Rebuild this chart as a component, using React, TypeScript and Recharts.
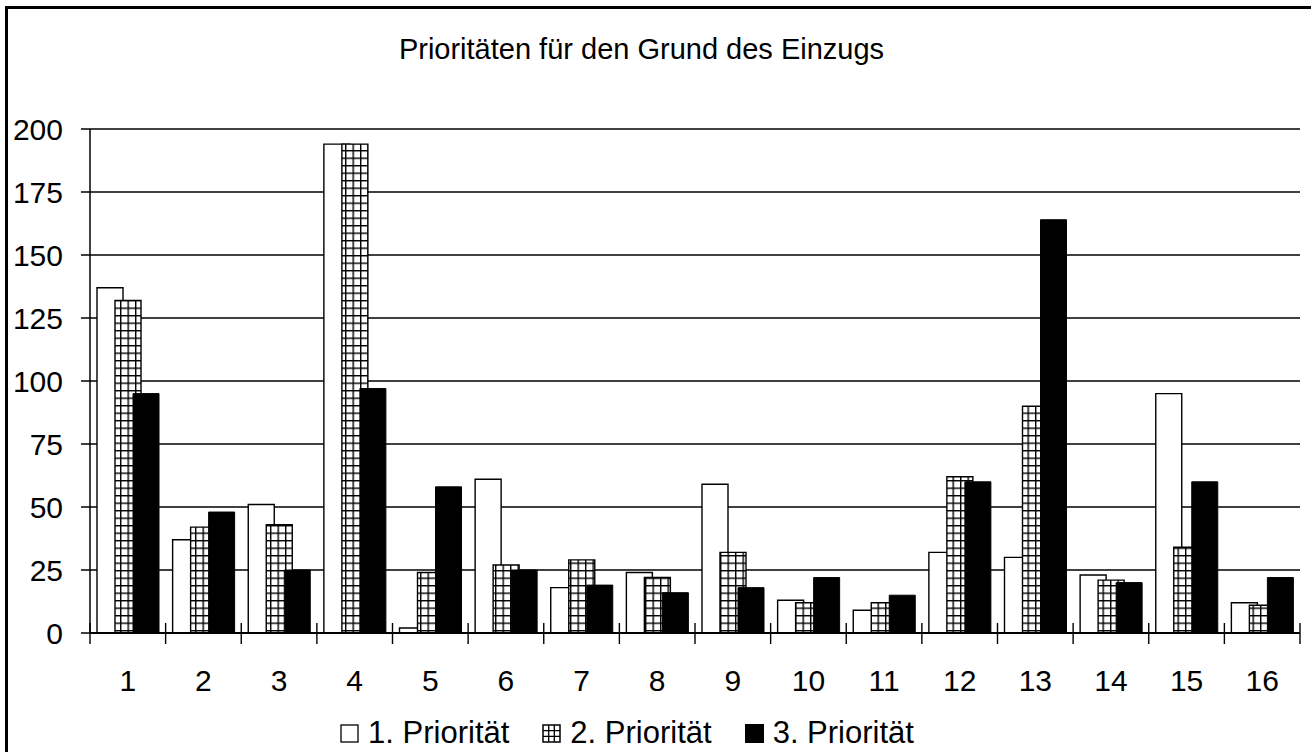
import React from "react";
import { BarChart, Bar, XAxis, YAxis, CartesianGrid } from "recharts";

const categories = ["1", "2", "3", "4", "5", "6", "7", "8", "9", "10", "11", "12", "13", "14", "15", "16"];
const prio1 = [137, 37, 51, 194, 2, 61, 18, 24, 59, 13, 9, 32, 30, 23, 95, 12];
const prio2 = [132, 42, 43, 194, 24, 27, 29, 22, 32, 12, 12, 62, 90, 21, 34, 11];
const prio3 = [95, 48, 25, 97, 58, 25, 19, 16, 18, 22, 15, 60, 164, 20, 60, 22];
const yTicks = [0, 25, 50, 75, 100, 125, 150, 175, 200];
const seriesNames = ["1. Priorität", "2. Priorität", "3. Priorität"];

const chartData = categories.map((c, i) => ({ name: c, p1: prio1[i], p2: prio2[i], p3: prio3[i] }));

const W = 1311;
const H = 752;
const PLOT_LEFT = 90;
const PLOT_RIGHT = 1300;
const PLOT_BOTTOM = 633;
const BAND = (PLOT_RIGHT - PLOT_LEFT) / categories.length;
const FONT = '"Liberation Sans", Arial, sans-serif';

function CategoryTick(props: any) {
  const { x, payload, index } = props;
  const left = x - BAND / 2;
  const right = x + BAND / 2;
  return (
    <g>
      <line x1={left} x2={left} y1={PLOT_BOTTOM - 10} y2={PLOT_BOTTOM + 11} stroke="#000" strokeWidth={1.4} />
      {index === categories.length - 1 && (
        <line x1={right} x2={right} y1={PLOT_BOTTOM - 10} y2={PLOT_BOTTOM + 11} stroke="#000" strokeWidth={1.4} />
      )}
      <text x={x} y={PLOT_BOTTOM + 58} textAnchor="middle" fontSize={30} fontFamily={FONT} fill="#000">
        {payload.value}
      </text>
    </g>
  );
}

function ValueTick(props: any) {
  const { x, y, payload } = props;
  return (
    <text x={x} y={y + 11} textAnchor="end" fontSize={30} fontFamily={FONT} fill="#000">
      {payload.value}
    </text>
  );
}

function LegendIcon({ kind }: { kind: number }) {
  return (
    <svg width={19} height={19} style={{ marginRight: 9 }}>
      {kind === 0 && <rect x={1} y={1} width={17} height={17} fill="#fff" stroke="#000" strokeWidth={1.3} />}
      {kind === 1 && (
        <g>
          <rect x={1} y={1} width={17} height={17} fill="#fff" stroke="#000" strokeWidth={1.5} />
          <path d="M6.7 1V18M12.3 1V18M1 6.7H18M1 12.3H18" stroke="#000" strokeWidth={1.3} />
        </g>
      )}
      {kind === 2 && <rect x={0} y={0} width={19} height={19} fill="#000" />}
    </svg>
  );
}

export default function App() {
  return (
    <div style={{ position: "absolute", left: 0, top: 0, width: W, height: H, overflow: "hidden", background: "#fff" }}>
      <div
        style={{
          position: "absolute",
          left: 5,
          top: 6,
          width: W + 20,
          height: H + 20,
          border: "3px solid #000",
          boxSizing: "border-box",
        }}
      />
      <div
        style={{
          position: "absolute",
          left: 0,
          top: 31,
          width: 1283,
          textAlign: "center",
          fontFamily: FONT,
          fontSize: 29,
          lineHeight: "36px",
          color: "#000",
        }}
      >
        Prioritäten für den Grund des Einzugs
      </div>
      <div style={{ position: "absolute", left: 0, top: 0 }}>
        <BarChart
          width={W}
          height={H}
          data={chartData}
          margin={{ top: 129, right: W - PLOT_RIGHT, bottom: 59, left: 0 }}
          barSize={26}
          barGap={-8}
        >
          <defs>
            <pattern id="grid" patternUnits="userSpaceOnUse" width={7.5} height={7.5}>
              <rect x={0} y={0} width={7.5} height={7.5} fill="#fff" />
              <path d="M0.7 0V7.5M0 0.7H7.5" stroke="#000" strokeWidth={1.4} />
            </pattern>
          </defs>
          <CartesianGrid horizontal vertical={false} stroke="#000" strokeWidth={1.6} strokeOpacity={1} />
          <XAxis
            dataKey="name"
            height={60}
            axisLine={{ stroke: "#000", strokeWidth: 1.8 }}
            tickLine={false}
            tick={<CategoryTick />}
            interval={0}
          />
          <YAxis
            width={PLOT_LEFT}
            domain={[0, 200]}
            ticks={yTicks}
            axisLine={{ stroke: "#000", strokeWidth: 1.5 }}
            tickLine={{ stroke: "#000", strokeWidth: 1.5 }}
            tickSize={9}
            tickMargin={18}
            tick={<ValueTick />}
            interval={0}
          />
          <Bar dataKey="p1" name={seriesNames[0]} fill="#fff" stroke="#000" strokeWidth={1.4} isAnimationActive={false} />
          <Bar dataKey="p2" name={seriesNames[1]} fill="url(#grid)" stroke="#000" strokeWidth={1.4} isAnimationActive={false} />
          <Bar dataKey="p3" name={seriesNames[2]} fill="#000" stroke="#000" strokeWidth={1} isAnimationActive={false} />
        </BarChart>
      </div>
      <div
        style={{
          position: "absolute",
          left: 0,
          top: 716,
          width: 1254,
          display: "flex",
          justifyContent: "center",
          alignItems: "center",
          fontFamily: FONT,
          fontSize: 31,
          lineHeight: "34px",
          color: "#000",
        }}
      >
        {seriesNames.map((n, i) => (
          <div key={n} style={{ display: "flex", alignItems: "center", marginRight: i < 2 ? 33 : 0 }}>
            <LegendIcon kind={i} />
            <span>{n}</span>
          </div>
        ))}
      </div>
    </div>
  );
}
